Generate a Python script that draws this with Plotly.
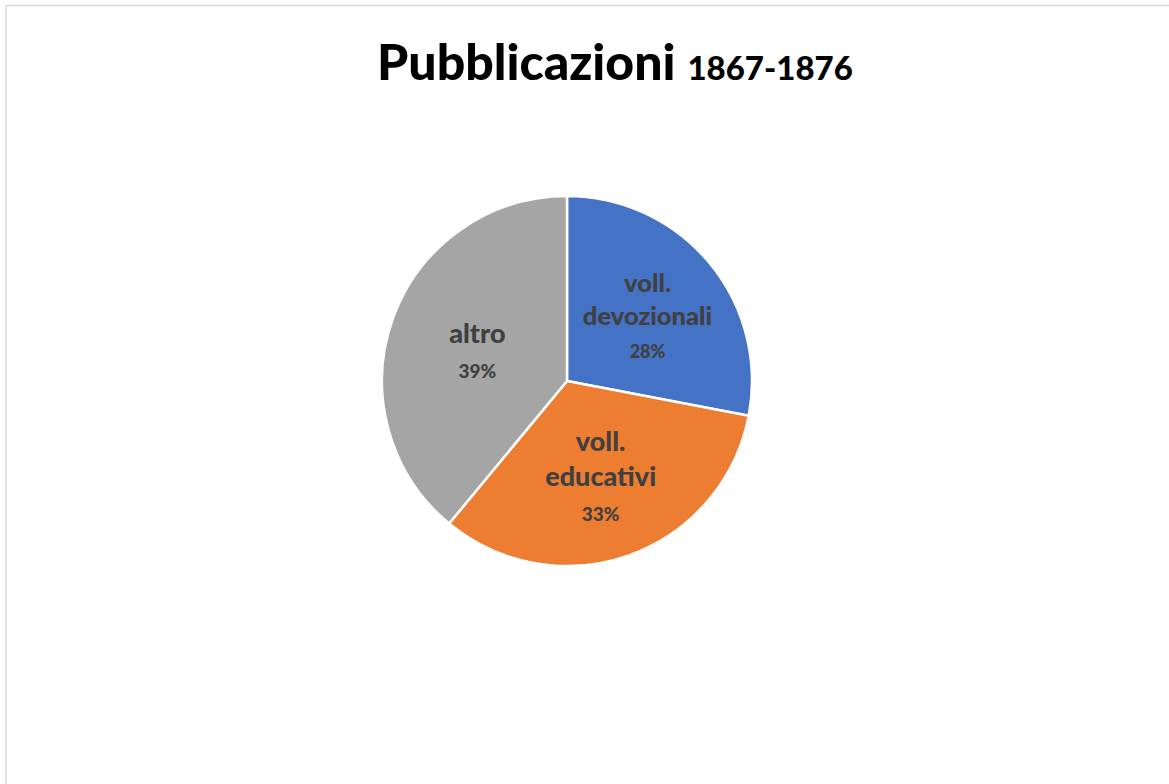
import plotly.graph_objects as go

# Share of publications by type, 1867-1876
categories = ["voll.<br>devozionali", "voll.<br>educativi", "altro"]
shares = [28, 33, 39]
slice_colors = ["#4472C4", "#ED7D31", "#A5A5A5"]

W, H = 1169, 784
cx, cy, r = 567, 381, 185  # pie centre and radius in pixels

fig = go.Figure(
    go.Pie(
        labels=categories,
        values=shares,
        sort=False,
        direction="clockwise",
        rotation=0,
        marker=dict(colors=slice_colors, line=dict(color="white", width=2.5)),
        texttemplate="%{label}<br><span style='font-size:19px'>%{percent:.0%}</span>",
        textposition="inside",
        insidetextorientation="horizontal",
        textfont=dict(family="Lato", size=27, color="#404040", weight=900),
        hoverinfo="label+percent",
        showlegend=False,
        domain=dict(
            x=[(cx - r) / W, (cx + r) / W],
            y=[1 - (cy + r) / H, 1 - (cy - r) / H],
        ),
    )
)

fig.update_layout(
    width=W,
    height=H,
    margin=dict(l=0, r=0, t=0, b=0),
    paper_bgcolor="white",
    plot_bgcolor="white",
    annotations=[
        dict(
            text="Pubblicazioni <span style='font-size:33px'>1867-1876</span>",
            x=615 / W,
            y=1 - 61 / H,
            xref="paper",
            yref="paper",
            xanchor="center",
            yanchor="middle",
            showarrow=False,
            font=dict(family="Lato", size=50, color="black", weight=900),
        )
    ],
    shapes=[
        dict(
            type="rect",
            xref="paper",
            yref="paper",
            x0=6 / W,
            y0=-0.05,
            x1=1.05,
            y1=1 - 5.5 / H,
            line=dict(color="#D9D9D9", width=1.5),
            fillcolor="rgba(0,0,0,0)",
            layer="below",
        )
    ],
)

fig.write_html("out.html")
